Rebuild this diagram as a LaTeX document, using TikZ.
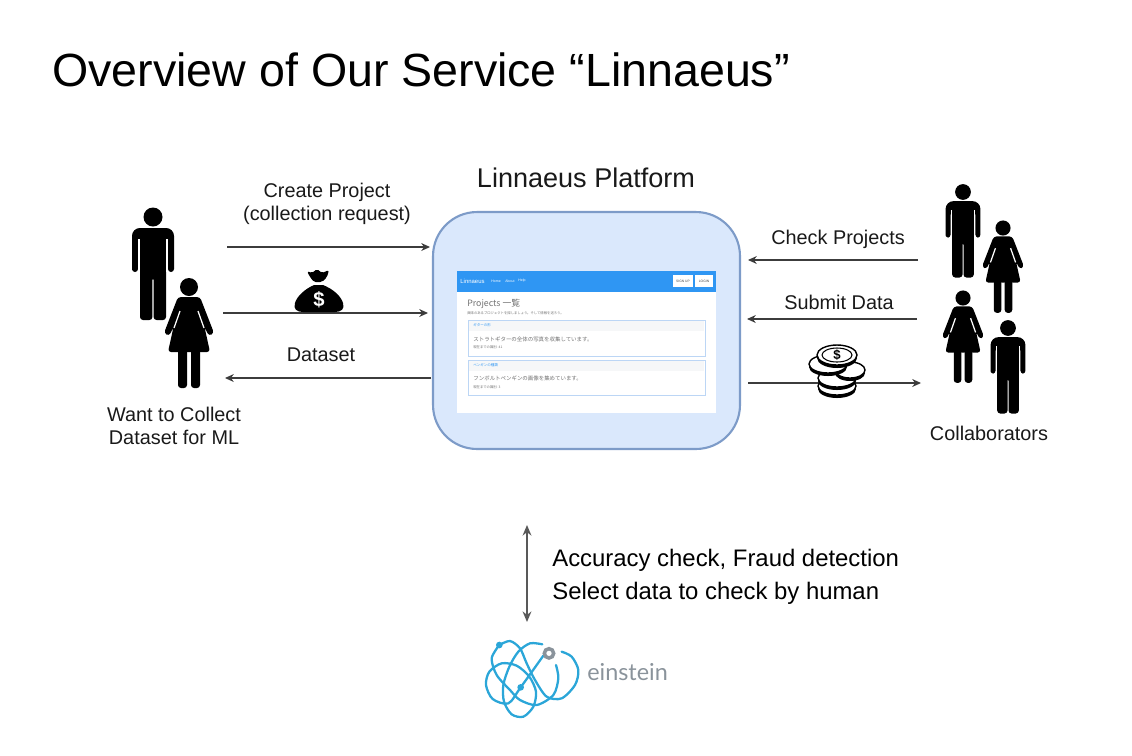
\documentclass[tikz,border=0pt]{standalone}
\usepackage{fontspec}
\setmainfont{Liberation Sans}
\newfontfamily\jpfont{Noto Sans CJK JP}
\newfontfamily\logofont{Lato}
\usetikzlibrary{arrows.meta,positioning}
\definecolor{boxfill}{HTML}{DAE8FC}
\definecolor{boxline}{HTML}{7D9BC8}
\definecolor{navblue}{HTML}{2F96F3}
\definecolor{cardline}{HTML}{BCD6F5}
\definecolor{cardhead}{HTML}{F6F7F8}
\definecolor{logoblue}{HTML}{2BA6D8}
\definecolor{logogray}{HTML}{8A939B}
\definecolor{flowgray}{HTML}{3C3C3C}
\tikzset{
  flowarrow/.style={draw=flowgray,line width=0.6pt,-{Stealth[length=5pt,width=4.5pt]}},
  infoarrow/.style={draw=black!65,line width=1.1pt,{Stealth[length=6pt,width=5pt]}-{Stealth[length=6pt,width=5pt]}},
  flowlabel/.style={align=center,inner sep=0pt,text=black!90,font=\fontsize{11.3}{13}\selectfont},
  infolabel/.style={anchor=west,align=left,inner sep=0pt,font=\fontsize{13.6}{18.7}\selectfont},
  uitext/.style={anchor=west,inner sep=0pt,text=black!55,font=\jpfont\fontsize{2.4}{3}\selectfont},
  uicard/.style={draw=cardline,line width=0.8pt,fill=white},
  logoline/.style={draw=logoblue,line width=1.3pt,line cap=round},
  coin/.style={draw=black,line width=0.8pt,fill=white},
  man/.pic={
    \fill (0,0) circle (9.5);
    \fill (-21,50) [rounded corners=4.5pt] -- (-21,11) -- (21,11) [rounded corners=1.7pt] -- (21,55) -- (15,55) -- (15,24) -- (13,24)
      -- (13,103) -- (0.6,103) -- (0.6,60) -- (-0.6,60) -- (-0.6,103) -- (-13,103) -- (-13,24) -- (-15,24) -- (-15,55) -- (-21,55) -- cycle;
    \draw[white,line width=0.7pt] (-14,22) -- (-14,55) (14,22) -- (14,55);
  },
  woman/.pic={
    \fill (0,0) circle (9);
    \fill[rounded corners=1.7pt] (-11,10) -- (11,10) -- (25,46) -- (20,49) -- (15.5,40) -- (21,65) -- (-21,65) -- (-15.5,40) -- (-20,49) -- (-25,46) -- cycle;
    \fill[rounded corners=1.7pt] (-11,62) -- (-2,62) -- (-2,101) -- (-11,101) -- cycle;
    \fill[rounded corners=1.7pt] (2,62) -- (11,62) -- (11,101) -- (2,101) -- cycle;
    \draw[white,line width=0.7pt] (-9,24) -- (-15,41) (9,24) -- (15,41);
  }
}
\begin{document}
\begin{tikzpicture}[x=0.02cm,y=-0.02cm]
  \useasboundingbox (0,0) rectangle (1132,755);

  \node[anchor=west,inner sep=0pt,font=\fontsize{26.5}{32}\selectfont] (title) at (52,70) {Overview of Our Service “Linnaeus”};

  \node[draw=boxline,fill=boxfill,line width=1.2pt,rounded corners=25pt,minimum width=6.14cm,minimum height=4.74cm] (platform) at (586.5,330.5) {};
  \node[flowlabel,font=\fontsize{15.4}{17}\selectfont] (platformlabel) at (586,178) {Linnaeus Platform};

  % screen shot
  \node[fill=white,anchor=north west,inner sep=0pt,minimum width=5.18cm,minimum height=2.84cm] (screen) at (457,271) {};
  \node[fill=navblue,anchor=north west,inner sep=0pt,minimum width=5.18cm,minimum height=0.42cm] (navbar) at (457,271) {};
  \node[uitext,text=white,font=\fontsize{3.4}{4}\selectfont] (navbrand) at (460,281) {Linnaeus};
  \node[uitext,text=white,font=\fontsize{2}{3}\selectfont] (navhome) at (491,281) {Home};
  \node[uitext,text=white,font=\fontsize{2}{3}\selectfont] (navabout) at (505,281) {About};
  \node[uitext,text=white,font=\fontsize{2}{3}\selectfont] (navhelp) at (518,281) {Help};
  \node[fill=white,inner sep=0pt,minimum width=0.4cm,minimum height=0.25cm,text=black!70,font=\fontsize{1.9}{3}\selectfont] (signup) at (683,281) {SIGN UP};
  \node[fill=white,inner sep=0pt,minimum width=0.36cm,minimum height=0.25cm,text=black!70,font=\fontsize{1.9}{3}\selectfont] (login) at (704,281) {LOGIN};
  \node[uitext,font=\jpfont\fontsize{5}{6}\selectfont] (screentitle) at (467,304) {Projects 一覧};
  \node[uitext,font=\jpfont\fontsize{1.9}{3}\selectfont] (screensub) at (467,313) {興味のあるプロジェクトを探しましょう。そして情報を送ろう。};

  \node[uicard,anchor=north west,inner sep=0pt,minimum width=4.74cm,minimum height=0.72cm] (cardone) at (468,320) {};
  \fill[cardhead] ([shift={(0.4pt,-0.4pt)}]cardone.north west) rectangle (704.4,331);
  \node[uitext,text=navblue,font=\jpfont\fontsize{2}{3}\selectfont] (cardonehead) at (473,325) {ギターの形};
  \node[uitext,font=\jpfont\fontsize{3.1}{4}\selectfont] (cardonetext) at (473,339) {ストラトギターの全体の写真を収集しています。};
  \node[uitext,font=\jpfont\fontsize{1.9}{3}\selectfont] (cardonesub) at (473,347) {現在までの識別: 41};

  \node[uicard,anchor=north west,inner sep=0pt,minimum width=4.74cm,minimum height=0.7cm] (cardtwo) at (468,360) {};
  \fill[cardhead] ([shift={(0.4pt,-0.4pt)}]cardtwo.north west) rectangle (704.4,371);
  \node[uitext,text=navblue,font=\jpfont\fontsize{2}{3}\selectfont] (cardtwohead) at (473,365) {ペンギンの種類};
  \node[uitext,font=\jpfont\fontsize{3.1}{4}\selectfont] (cardtwotext) at (473,378) {フンボルトペンギンの画像を集めています。};
  \node[uitext,font=\jpfont\fontsize{1.9}{3}\selectfont] (cardtwosub) at (473,387) {現在までの識別: 3};

  % people
  \pic (leftman) at (153,217) {man};
  \pic (leftwoman) at (189,287) {woman};
  \pic[scale=0.83] (rightmanone) at (963,192) {man};
  \pic[scale=0.84] (rightwomanone) at (1003,228) {woman};
  \pic[scale=0.84] (rightwomantwo) at (963,298) {woman};
  \pic[scale=0.83] (rightmantwo) at (1008,328) {man};

  \node[flowlabel] (clientlabel) at (174,426) {Want to Collect\\Dataset for ML};
  \node[flowlabel] (collablabel) at (989,433) {Collaborators};

  % flows
  \coordinate (reqstart) at (227,247);
  \coordinate (reqend) at (430,247);
  \coordinate (paystart) at (223,313);
  \coordinate (payend) at (428,313);
  \coordinate (datastart) at (431,378);
  \coordinate (dataend) at (225,378);
  \coordinate (checkstart) at (918,260);
  \coordinate (checkend) at (748,260);
  \coordinate (submitstart) at (917,319);
  \coordinate (submitend) at (747,319);
  \coordinate (rewardstart) at (748,383);
  \coordinate (rewardend) at (921,383);
  \coordinate (infotop) at (527,525);
  \coordinate (infobottom) at (527,622);

  \draw[flowarrow] (reqstart) -- (reqend);
  \draw[flowarrow] (paystart) -- (payend);
  \draw[flowarrow] (datastart) -- (dataend);
  \draw[flowarrow] (checkstart) -- (checkend);
  \draw[flowarrow] (submitstart) -- (submitend);
  \draw[flowarrow] (rewardstart) -- (rewardend);
  \draw[infoarrow] (infotop) -- (infobottom);

  \node[flowlabel] (reqlabel) at (327,203.5) {Create Project\\(collection request)};
  \node[flowlabel] (datalabel) at (321,355) {Dataset};
  \node[flowlabel] (checklabel) at (838,239.5) {Check Projects};
  \node[flowlabel] (submitlabel) at (839,302) {Submit Data};
  \node[infolabel] (infotext) at (552,576.5) {Accuracy check, Fraud detection\\Select data to check by human};

  % money bag
  \fill[rounded corners=1pt] (307,271) -- (312,273) -- (317,269) -- (322,273) -- (329,270) -- (327,277) -- (322,282) -- (314,282) -- (310,277) -- cycle;
  \fill (314,285) -- (323,285) .. controls (333,289) and (341,296) .. (343,303) .. controls (345,309) and (341,312) .. (335,312)
    -- (303,312) .. controls (297,312) and (293,309) .. (295,303) .. controls (297,296) and (305,289) .. (314,285) -- cycle;
  \node[text=white,inner sep=0pt,font=\bfseries\fontsize{11.5}{12}\selectfont] (bagdollar) at (319,300) {\$};

  % coins
  \foreach \cx/\cy/\rx/\ry in {837/386/19/9,837/378/19/9,850/370/15/8,828/364/19/9,837/355/20/10}{
    \fill (\cx,\cy+3) ellipse ({\rx} and {\ry});
    \filldraw[coin] (\cx,\cy) ellipse ({\rx} and {\ry});
  }
  \draw[line width=0.6pt] (837,355) ellipse (15 and 7);
  \node[inner sep=0pt,font=\bfseries\fontsize{7.5}{8}\selectfont] (coindollar) at (837,355) {\$};

  % einstein logo
  \begin{scope}[shift={(480,635)},x=0.00667cm,y=-0.00667cm]
    \draw[logoline] plot[smooth] coordinates {(58,30) (90,18) (120,40) (140,85) (165,135) (200,185) (245,190) (285,150) (295,105) (275,65) (245,50)};
    \draw[logoline] plot[smooth] coordinates {(58,30) (35,70) (50,120) (90,165) (120,195) (170,210) (220,180) (235,130) (228,90)};
    \draw[logoline] plot[smooth] coordinates {(187,28) (150,25) (115,50) (88,95) (70,150) (72,200) (95,238) (130,245) (160,215) (168,170) (148,125) (110,92) (65,85) (28,110) (18,150) (38,192) (85,205) (122,157) (190,62)};
    \fill[logoblue] (58,30) circle (10);
    \fill[logoblue] (122,157) circle (10);
    \draw[draw=logogray,line width=2pt] (207,55) circle (14);
  \end{scope}
  \node[anchor=west,inner sep=0pt,text=logogray,font=\logofont\fontsize{13.3}{16}\selectfont] (logotext) at (587,672) {einstein};
\end{tikzpicture}
\end{document}
